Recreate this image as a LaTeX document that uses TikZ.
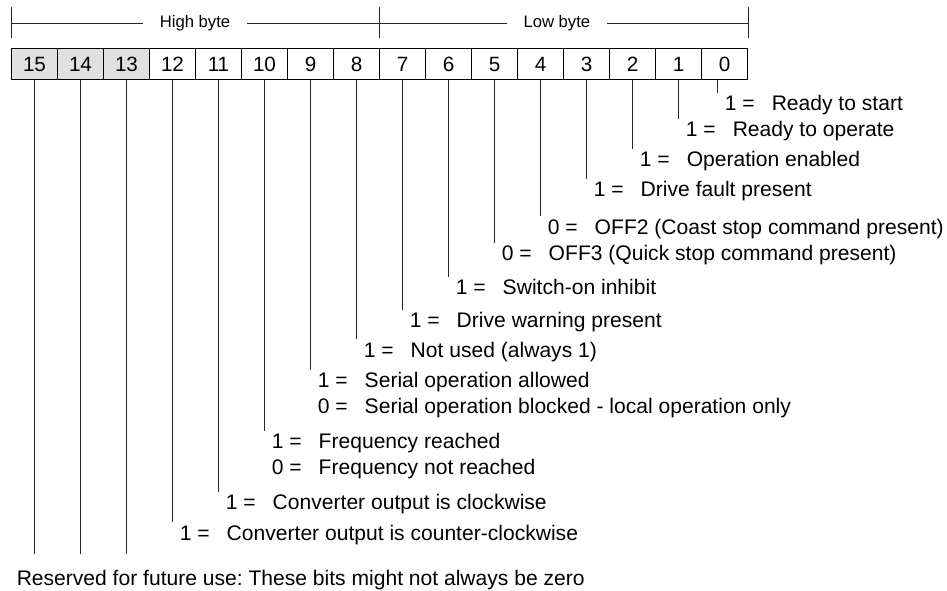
\documentclass[tikz,border=0pt]{standalone}
\usepackage{fontspec}
\setmainfont{Liberation Sans}
\usetikzlibrary{positioning,calc}
\frenchspacing
\newlength\pxu
\setlength\pxu{0.75pt}
\newcommand\bitdesc[2]{\makebox[47\pxu][l]{#1 =}#2}

\begin{document}
\begin{tikzpicture}[x=0.75pt, y=-0.75pt,
    bitbox/.style={draw, line width=1\pxu, minimum width=46\pxu, minimum height=31\pxu,
      inner sep=0pt, anchor=north west, font=\fontsize{15.5}{18}\selectfont},
    desc/.style={anchor=base west, inner sep=0pt, font=\fontsize{15.8}{18.9}\selectfont},
    bitline/.style={line width=0.9\pxu, draw=black!85},
    bytelbl/.style={fill=white, inner xsep=17\pxu, inner ysep=1pt, font=\fontsize{12.5}{15}\selectfont}]
  \useasboundingbox (0,0) rectangle (947,590);
  % register, bit 15 on the left
  \foreach \b in {0,...,12}
    \node[bitbox] (b\b) at ({11+46*(15-\b)},48) {\b};
  \foreach \b in {13,14,15}
    \node[bitbox, fill=black!12] (b\b) at ({11+46*(15-\b)},48) {\b};
  % byte brackets
  \foreach \a in {b15.north west, b7.north west, b0.north east}
    \draw[bitline] ([yshift=10\pxu]\a) -- ([yshift=41\pxu]\a);
  \draw[bitline] ([yshift=25\pxu]b15.north west) -- ([yshift=25\pxu]b7.north west)
    node[bytelbl, pos=0.5] (hb) {High byte};
  \draw[bitline] ([yshift=25\pxu]b7.north west) -- ([yshift=25\pxu]b0.north east)
    node[bytelbl, pos=0.482] (lb) {Low byte};
  % bit meanings
  \node[desc] (d0) at (724.5,110.5) {\bitdesc{1}{Ready to start}};
  \node[desc] (d1) at (685.5,136.5) {\bitdesc{1}{Ready to operate}};
  \node[desc] (d2) at (639.5,166.5) {\bitdesc{1}{Operation enabled}};
  \node[desc] (d3) at (593.5,196.5) {\bitdesc{1}{Drive fault present}};
  \node[desc] (d4) at (547.5,234) {\bitdesc{0}{OFF2 (Coast stop command present)}};
  \node[desc] (d5) at (501.5,260.5) {\bitdesc{0}{OFF3 (Quick stop command present)}};
  \node[desc] (d6) at (455.5,294.5) {\bitdesc{1}{Switch-on inhibit}};
  \node[desc] (d7) at (409.5,327.5) {\bitdesc{1}{Drive warning present}};
  \node[desc] (d8) at (363.5,357) {\bitdesc{1}{Not used (always 1)}};
  \node[desc] (d9) at (317.5,387.5) {\bitdesc{1}{Serial operation allowed}};
  \node[desc] (d9b) at (317.5,413) {\bitdesc{0}{Serial operation blocked - local operation only}};
  \node[desc] (d10) at (271.5,448.5) {\bitdesc{1}{Frequency reached}};
  \node[desc] (d10b) at (271.5,474.5) {\bitdesc{0}{Frequency not reached}};
  \node[desc] (d11) at (225.5,509.5) {\bitdesc{1}{Converter output is clockwise}};
  \node[desc] (d12) at (179.5,540) {\bitdesc{1}{Converter output is counter-clockwise}};
  \node[desc] (res) at (16.5,585.5) {Reserved for future use: These bits might not always be zero};
  % leader lines
  \coordinate (t0) at ([xshift=-7\pxu]b0.south);
  \draw[bitline, shorten >=2.3\pxu] (t0) -- (t0 |- d0.north);
  \foreach \b in {1,...,12}
    \draw[bitline, shorten >=2.3\pxu] (b\b.south) -- (b\b.south |- d\b.north);
  \foreach \b in {13,14,15}
    \draw[bitline, shorten >=16\pxu] (b\b.south) -- (b\b.south |- res.north);
\end{tikzpicture}
\end{document}
